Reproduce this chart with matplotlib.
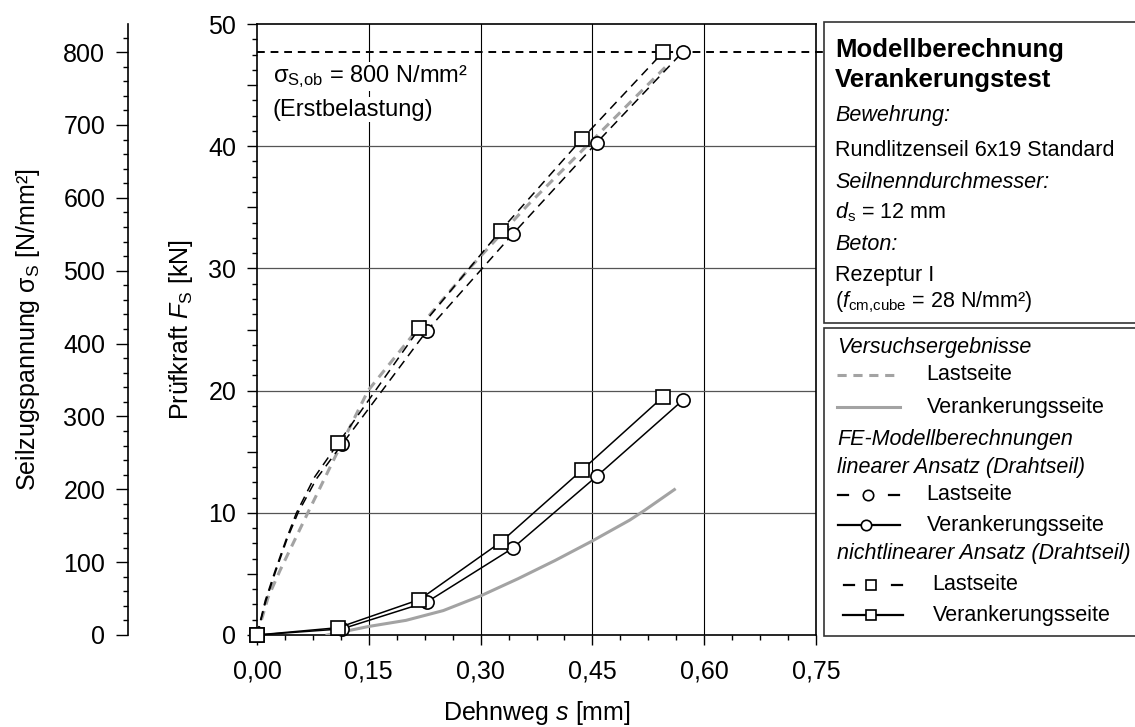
import matplotlib
matplotlib.use('Agg')
import matplotlib.pyplot as plt
from matplotlib.ticker import MultipleLocator, FuncFormatter
from matplotlib.patches import Rectangle

plt.rcParams['font.family'] = ['Liberation Sans', 'DejaVu Sans']
plt.rcParams['mathtext.fontset'] = 'custom'
plt.rcParams['mathtext.rm'] = 'Liberation Sans'
plt.rcParams['mathtext.it'] = 'Liberation Sans:italic'
plt.rcParams['mathtext.bf'] = 'Liberation Sans:bold'

# FE model, linear approach (circles)
s_lin = [0.0, 0.114, 0.228, 0.343, 0.456, 0.571]
F_lin_last = [0.0, 15.6, 24.9, 32.8, 40.3, 47.7]
F_lin_anch = [0.0, 0.5, 2.7, 7.1, 13.0, 19.2]
# dashed line of linear Lastseite (traced incl. curved start)
s_lin_last_line = [0.0, 0.012, 0.025, 0.040, 0.055, 0.080, 0.114, 0.228, 0.343, 0.456, 0.571]
F_lin_last_line = [0.0, 2.8, 5.2, 7.8, 10.0, 12.8, 15.6, 24.9, 32.8, 40.3, 47.7]

# FE model, nonlinear approach (squares)
s_nl = [0.0, 0.109, 0.218, 0.327, 0.436, 0.545]
F_nl_last = [0.0, 15.7, 25.1, 33.1, 40.6, 47.7]
F_nl_anch = [0.0, 0.6, 2.9, 7.6, 13.5, 19.5]
s_nl_last_line = [0.0, 0.011, 0.024, 0.039, 0.053, 0.077, 0.109, 0.218, 0.327, 0.436, 0.545]
F_nl_last_line = [0.0, 2.8, 5.2, 7.8, 10.0, 12.9, 15.7, 25.1, 33.1, 40.6, 47.7]

# test results
s_test_last = [0.0, 0.015, 0.031, 0.069, 0.105, 0.149, 0.215, 0.285, 0.362, 0.442, 0.550]
F_test_last = [0.0, 3.1, 5.3, 10.1, 14.6, 20.0, 25.0, 30.0, 35.1, 40.0, 46.6]
s_test_anch = [0.094, 0.15, 0.20, 0.25, 0.30, 0.35, 0.40, 0.45, 0.50, 0.52, 0.56]
F_test_anch = [0.0, 0.7, 1.2, 2.0, 3.2, 4.6, 6.1, 7.7, 9.4, 10.2, 11.9]

sigma_ob = 800      # N/mm²
F_ob = 47.7         # kN at sigma_ob

W, H = 1135, 727
fig = plt.figure(figsize=(W / 100, H / 100), dpi=100)

def fx(px):
    return px / W

def fy(py):
    return 1 - py / H

left, right, top, bottom = 257, 816, 24, 635
ax = fig.add_axes([fx(left), fy(bottom), fx(right - left), (bottom - top) / H])

fs = 15.5     # info boxes
fs_ax = 18    # axes text
gray = '#a3a3a3'

ax.plot(s_test_last, F_test_last, color=gray, lw=2.2, ls=(0, (3, 2.2)), zorder=3)
ax.plot(s_test_anch, F_test_anch, color=gray, lw=2.2, zorder=3)

mk = dict(markerfacecolor='white', markeredgecolor='black', markeredgewidth=1.2,
          markersize=9.5, color='black', lw=1.1, zorder=5, clip_on=False)
ax.plot(s_lin_last_line, F_lin_last_line, color='black', lw=1.1, ls=(0, (6, 4)), zorder=4)
ax.plot(s_nl_last_line, F_nl_last_line, color='black', lw=1.1, ls=(0, (6, 4)), zorder=4)
ax.plot(s_lin, F_lin_last, marker='o', ls='none', **mk)
ax.plot(s_nl, F_nl_last, marker='s', ls='none', **mk)
ax.plot(s_lin, F_lin_anch, marker='o', **mk)
ax.plot(s_nl, F_nl_anch, marker='s', **mk)

# 800 N/mm² line, runs on to the info box
ax.plot([0, 1.015], [F_ob, F_ob], color='black', lw=1.4, ls=(0, (4, 3)),
        transform=ax.get_yaxis_transform(), clip_on=False, zorder=4)

ax.text(0.021, 45.7, 'σ$_\\mathregular{S{,}ob}$ = 800 N/mm²', fontsize=17, va='center',
        bbox=dict(facecolor='white', edgecolor='none', pad=1), zorder=6)
ax.text(0.021, 43.0, '(Erstbelastung)', fontsize=17, va='center',
        bbox=dict(facecolor='white', edgecolor='none', pad=1), zorder=6)

ax.set_xlim(0, 0.75)
ax.set_ylim(0, 50)
ax.xaxis.set_major_locator(MultipleLocator(0.15))
ax.xaxis.set_minor_locator(MultipleLocator(0.0375))
ax.yaxis.set_major_locator(MultipleLocator(5))
ax.yaxis.set_minor_locator(MultipleLocator(1.25))
ax.xaxis.set_major_formatter(FuncFormatter(lambda v, p: f'{v:.2f}'.replace('.', ',')))
ax.yaxis.set_major_formatter(FuncFormatter(lambda v, p: f'{v:.0f}' if round(v) % 10 == 0 else ''))
ax.tick_params(which='major', direction='out', length=7, width=1, labelsize=fs_ax)
ax.tick_params(axis='x', which='major', pad=11)
ax.tick_params(axis='y', which='major', pad=8)
ax.tick_params(which='minor', direction='out', length=3.6, width=1)
for sp in ax.spines.values():
    sp.set_linewidth(1.2)

for v in [0.15, 0.30, 0.45, 0.60]:
    ax.axvline(v, color='black', lw=0.8, zorder=1)
for v in [10, 20, 30, 40]:
    ax.axhline(v, color='#555555', lw=0.9, zorder=1)

# stress axis on the far left
ax2 = fig.add_axes([fx(128), fy(bottom), 0.0001, (bottom - top) / H])
ax2.set_facecolor('none')
for k in ['top', 'right', 'bottom']:
    ax2.spines[k].set_visible(False)
ax2.spines['left'].set_linewidth(1.2)
ax2.set_xticks([])
ax2.set_ylim(0, 50 * sigma_ob / F_ob)
ax2.yaxis.set_major_locator(MultipleLocator(100))
ax2.yaxis.set_minor_locator(MultipleLocator(20))
ax2.tick_params(which='major', direction='out', length=8.4, width=1, labelsize=fs_ax, pad=8)
ax2.tick_params(which='minor', direction='out', length=3.6, width=1)

# overlay in pixel coordinates for labels and info boxes
ov = fig.add_axes([0, 0, 1, 1])
ov.set_xlim(0, W)
ov.set_ylim(H, 0)
ov.axis('off')
ov.patch.set_alpha(0)

ov.text(28, 330, 'Seilzugspannung σ$_\\mathregular{S}$ [N/mm²]', rotation=90,
        ha='center', va='center', fontsize=fs_ax)
ov.text(181, 330, 'Prüfkraft $F$$_\\mathregular{S}$ [kN]', rotation=90,
        ha='center', va='center', fontsize=fs_ax)
ov.text((left + right) / 2, 720, 'Dehnweg $s$ [mm]', ha='center', va='baseline', fontsize=fs_ax)

ov.add_patch(Rectangle((824, 22), 330, 301, facecolor='white', edgecolor='#333333', lw=1.2))
ov.add_patch(Rectangle((824, 328), 330, 308, facecolor='white', edgecolor='#333333', lw=1.2))

tx = 835
ov.text(tx, 50, 'Modellberechnung', fontsize=18.5, fontweight='bold', va='center')
ov.text(tx, 80, 'Verankerungstest', fontsize=18.5, fontweight='bold', va='center')
ov.text(tx, 115, 'Bewehrung:', fontsize=fs, style='italic', va='center')
ov.text(tx, 150, 'Rundlitzenseil 6x19 Standard', fontsize=fs, va='center')
ov.text(tx, 183, 'Seilnenndurchmesser:', fontsize=fs, style='italic', va='center')
ov.text(tx, 212, '$d$$_\\mathregular{s}$ = 12 mm', fontsize=fs, va='center')
ov.text(tx, 245, 'Beton:', fontsize=fs, style='italic', va='center')
ov.text(tx, 275, 'Rezeptur I', fontsize=fs, va='center')
ov.text(tx, 302, '($f$$_\\mathregular{cm{,}cube}$ = 28 N/mm²)', fontsize=fs, va='center')

hx = 837
ov.text(hx, 348, 'Versuchsergebnisse', fontsize=fs, style='italic', va='center')
ov.plot([837, 900], [375, 375], color=gray, lw=2.2, ls=(0, (3, 2.2)))
ov.text(926, 375, 'Lastseite', fontsize=fs, va='center')
ov.plot([837, 900], [407, 407], color=gray, lw=2.2)
ov.text(927, 407, 'Verankerungsseite', fontsize=fs, va='center')
ov.text(hx, 440, 'FE-Modellberechnungen', fontsize=fs, style='italic', va='center')
ov.text(hx, 468, 'linearer Ansatz (Drahtseil)', fontsize=fs, style='italic', va='center')
lk = dict(color='black', lw=1.6)
mk_leg = dict(markerfacecolor='white', markeredgecolor='black', markeredgewidth=1.2, markersize=7.5)
ov.plot([838, 848], [495, 495], **lk)
ov.plot([889, 899], [495, 495], **lk)
ov.plot([868], [495], marker='o', ls='none', **mk_leg)
ov.text(926, 495, 'Lastseite', fontsize=fs, va='center')
ov.plot([838, 900], [525, 525], **lk)
ov.plot([866], [525], marker='o', ls='none', **mk_leg)
ov.text(927, 525, 'Verankerungsseite', fontsize=fs, va='center')
ov.text(hx, 553, 'nichtlinearer Ansatz (Drahtseil)', fontsize=fs, style='italic', va='center')
ov.plot([844, 854], [585, 585], **lk)
ov.plot([892, 902], [585, 585], **lk)
ov.plot([871], [585], marker='s', ls='none', **mk_leg)
ov.text(932, 585, 'Lastseite', fontsize=fs, va='center')
ov.plot([843, 903], [615, 615], **lk)
ov.plot([871], [615], marker='s', ls='none', **mk_leg)
ov.text(933, 615, 'Verankerungsseite', fontsize=fs, va='center')

fig.savefig('out.png', dpi=100)
